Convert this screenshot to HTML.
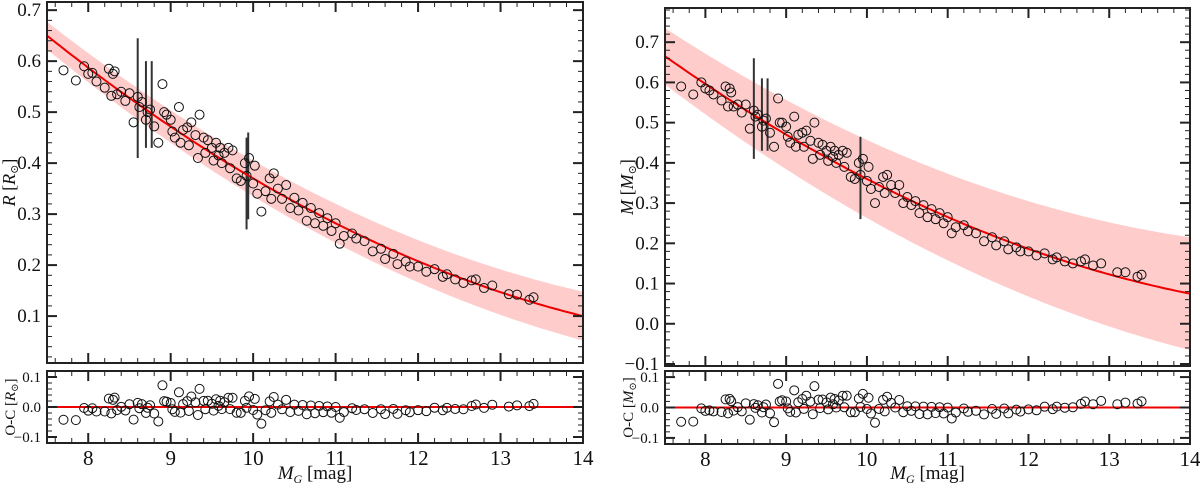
<!DOCTYPE html>
<html><head><meta charset="utf-8"><style>
body{margin:0;background:#fff;width:1200px;height:484px;overflow:hidden}
svg text{font-family:"Liberation Serif","DejaVu Serif",serif;fill:#111}
</style></head><body>
<svg id="c" width="1200" height="484" xmlns="http://www.w3.org/2000/svg"></svg>
<script>
const mg=[7.7,7.85,7.95,8.0,8.05,8.1,8.2,8.25,8.28,8.3,8.32,8.35,8.4,8.45,8.5,8.55,8.6,8.62,8.65,8.7,8.72,8.75,8.8,8.85,8.9,8.92,8.95,9.0,9.02,9.05,9.1,9.12,9.15,9.2,9.22,9.25,9.3,9.33,9.35,9.4,9.42,9.45,9.5,9.52,9.55,9.58,9.6,9.62,9.65,9.7,9.72,9.75,9.8,9.85,9.9,9.92,9.95,10.0,10.02,10.05,10.1,10.15,10.2,10.22,10.25,10.3,10.35,10.4,10.45,10.5,10.55,10.6,10.65,10.7,10.75,10.8,10.85,10.9,10.95,11.0,11.05,11.1,11.2,11.25,11.35,11.45,11.55,11.6,11.7,11.75,11.85,11.9,12.0,12.1,12.2,12.3,12.35,12.45,12.55,12.65,12.7,12.8,12.9,13.1,13.2,13.35,13.4];
const rad=[0.582,0.562,0.59,0.575,0.577,0.56,0.548,0.585,0.532,0.575,0.58,0.535,0.54,0.522,0.537,0.48,0.53,0.51,0.52,0.485,0.5,0.505,0.472,0.44,0.555,0.5,0.495,0.485,0.462,0.45,0.51,0.44,0.465,0.47,0.435,0.48,0.455,0.41,0.495,0.45,0.42,0.445,0.43,0.405,0.44,0.415,0.43,0.4,0.42,0.43,0.39,0.425,0.37,0.365,0.4,0.375,0.41,0.36,0.395,0.34,0.305,0.345,0.37,0.33,0.38,0.35,0.33,0.357,0.312,0.332,0.307,0.322,0.287,0.312,0.282,0.302,0.277,0.292,0.267,0.282,0.242,0.257,0.262,0.252,0.247,0.227,0.232,0.212,0.222,0.202,0.207,0.197,0.197,0.187,0.192,0.177,0.182,0.172,0.165,0.17,0.172,0.155,0.16,0.143,0.142,0.132,0.137];
const mass=[0.59,0.57,0.6,0.585,0.58,0.57,0.555,0.59,0.54,0.585,0.575,0.54,0.545,0.525,0.545,0.485,0.53,0.515,0.52,0.49,0.505,0.51,0.475,0.44,0.56,0.5,0.5,0.49,0.465,0.45,0.515,0.44,0.47,0.475,0.44,0.48,0.455,0.41,0.5,0.45,0.42,0.445,0.43,0.405,0.44,0.415,0.43,0.4,0.42,0.43,0.39,0.425,0.365,0.36,0.4,0.37,0.41,0.355,0.39,0.335,0.3,0.34,0.365,0.325,0.37,0.345,0.325,0.345,0.3,0.315,0.295,0.305,0.275,0.295,0.265,0.285,0.26,0.275,0.25,0.265,0.225,0.24,0.245,0.23,0.225,0.205,0.215,0.195,0.205,0.185,0.19,0.18,0.18,0.17,0.175,0.16,0.165,0.155,0.15,0.155,0.16,0.145,0.15,0.128,0.128,0.117,0.122];
const errR=[[8.6,0.41,0.645],[8.7,0.43,0.6],[8.77,0.43,0.6],[9.92,0.27,0.45],[9.94,0.29,0.46]];
const errM=[[8.6,0.41,0.66],[8.7,0.43,0.61],[8.77,0.43,0.61],[9.92,0.26,0.465]];
const fitR=[0.37,-0.0949,0.00685], bandR=[0.027,0.0032];
const fitM=[0.36,-0.1025,0.0078], bandM=[0.07,0.0108];
const yTicksR=[0.1,0.2,0.3,0.4,0.5,0.6,0.7], yTicksM=[-0.1,0.0,0.1,0.2,0.3,0.4,0.5,0.6,0.7];
const xTicks=[8,9,10,11,12,13,14], resTicks=[-0.1,0.0,0.1];
const NS='http://www.w3.org/2000/svg', svg=document.getElementById('c');
function el(t,a,p){const e=document.createElementNS(NS,t);for(const k in a)e.setAttribute(k,a[k]);(p||svg).appendChild(e);return e;}
function poly(c,m){const d=m-10;return c[0]+c[1]*d+c[2]*d*d;}
function panel(o){
 const {x0,x1,top,bot,ymin,ymax,rtop,rbot,rmin,rmax,fit,band,ys,ticks,err,lab,pfx}=o;
 const X=v=>x0+(v-7.5)/6.5*(x1-x0);
 const Y=v=>bot-(v-ymin)/(ymax-ymin)*(bot-top);
 const RY=v=>rbot-(v-rmin)/(rmax-rmin)*(rbot-rtop);
 const g=el('g',{});
 
 
 let up='',lo='',ln='';
 for(let i=0;i<=130;i++){const m=7.5+i*0.05,f=poly(fit,m),b=band[0]+band[1]*(m-7.5);
  up+=(i?'L':'M')+X(m).toFixed(1)+','+Y(f+b).toFixed(1);
  lo='L'+X(m).toFixed(1)+','+Y(f-b).toFixed(1)+lo;
  ln+=(i?'L':'M')+X(m).toFixed(1)+','+Y(f).toFixed(1);}
 const cp=el('clipPath',{id:pfx+'clip'},g);el('rect',{x:x0,y:top,width:x1-x0,height:bot-top},cp);
 const inner=el('g',{'clip-path':'url(#'+pfx+'clip)'},g);
 const bd=el('path',{d:up+lo+'Z',fill:'#ffcccc'},inner);
 
 
 err.forEach(e=>{const l=el('line',{x1:X(e[0]),x2:X(e[0]),y1:Y(e[1]),y2:Y(e[2]),stroke:'#333','stroke-width':2},inner);
  
  });
 const fl=el('path',{d:ln,fill:'none',stroke:'#e00','stroke-width':2},inner);
 
 
 mg.forEach((m,i)=>{const c=el('circle',{cx:X(m),cy:Y(ys[i]),r:4.5,fill:'none',stroke:'#111','stroke-width':1},inner);
  
  });
 const rl=el('line',{x1:x0,x2:x1,y1:RY(0),y2:RY(0),stroke:'#e00','stroke-width':2},g);
 
 
 mg.forEach((m,i)=>{const c=el('circle',{cx:X(m),cy:RY(ys[i]-poly(fit,m)),r:4.5,fill:'none',stroke:'#111','stroke-width':1},g);
  
  });
 [[top,bot],[rtop,rbot]].forEach(([t,b])=>{el('rect',{x:x0,y:t,width:x1-x0,height:b-t,fill:'none',stroke:'#222','stroke-width':2},g);
  for(let v=7.6;v<14;v+=0.2){const maj=Math.abs(v-Math.round(v))<0.01,L=maj?10:5;const xx=X(v);
   el('line',{x1:xx,x2:xx,y1:b,y2:b-L,stroke:'#222','stroke-width':maj?2:1},g);el('line',{x1:xx,x2:xx,y1:t,y2:t+L,stroke:'#222','stroke-width':maj?2:1},g);}});
 for(let v=Math.ceil(ymin*50)/50;v<=ymax;v+=0.02){const maj=Math.abs(v*10-Math.round(v*10))<0.01,L=maj?10:5,yy=Y(v);
  el('line',{x1:x0,x2:x0+L,y1:yy,y2:yy,stroke:'#222','stroke-width':maj?2:1},g);el('line',{x1:x1,x2:x1-L,y1:yy,y2:yy,stroke:'#222','stroke-width':maj?2:1},g);}
 for(let v=-0.12;v<=0.12;v+=0.02){const maj=Math.abs(v*10-Math.round(v*10))<0.01,L=maj?10:5,yy=RY(v);if(yy<rtop+1||yy>rbot-1)continue;
  el('line',{x1:x0,x2:x0+L,y1:yy,y2:yy,stroke:'#222','stroke-width':maj?2:1},g);el('line',{x1:x1,x2:x1-L,y1:yy,y2:yy,stroke:'#222','stroke-width':maj?2:1},g);}
 ticks.forEach(v=>{const t=el('text',{x:x0-6,y:Y(v)+6,'text-anchor':'end','font-size':19},g);t.textContent=v.toFixed(1).replace('-','−');
  
  });
 resTicks.forEach(v=>{const t=el('text',{x:x0-6,y:RY(v)+5,'text-anchor':'end','font-size':15},g);t.textContent=v.toFixed(1).replace('-','−');
  
  });
 xTicks.forEach(v=>{const t=el('text',{x:X(v),y:rbot+22,'text-anchor':'middle','font-size':21},g);t.textContent=v;
  
  });
 const xt=el('text',{x:(x0+x1)/2,y:479,'text-anchor':'middle','font-size':19},g);
 xt.innerHTML='<tspan font-style="italic">M</tspan><tspan font-style="italic" font-size="12" dy="4">G</tspan><tspan dy="-4"> [mag]</tspan>';
 
 
 const yc=(top+bot)/2,yt=el('text',{x:0,y:0,'text-anchor':'middle','font-size':18,transform:`translate(${x0-32},${yc}) rotate(-90)`},g);
 yt.innerHTML=`<tspan font-style="italic">${lab}</tspan> [<tspan font-style="italic">${lab}</tspan><tspan font-size="11" dy="3">⊙</tspan><tspan dy="-3">]</tspan>`;
 
 
 const rc=(rtop+rbot)/2,rt=el('text',{x:0,y:0,'text-anchor':'middle','font-size':15,transform:`translate(${x0-32},${rc}) rotate(-90)`},g);
 rt.innerHTML=`O-C [<tspan font-style="italic">${lab}</tspan><tspan font-size="10" dy="3">⊙</tspan><tspan dy="-3">]</tspan>`;
 
 
}
panel({pfx:'radius',x0:47,x1:583,top:2,bot:363,ymin:0.008,ymax:0.716,rtop:371,rbot:443,rmin:-0.12,rmax:0.12,fit:fitR,band:bandR,ys:rad,ticks:yTicksR,err:errR,lab:'R'});
panel({pfx:'mass',x0:665,x1:1190,top:8,bot:366,ymin:-0.105,ymax:0.785,rtop:371,rbot:444,rmin:-0.12,rmax:0.12,fit:fitM,band:bandM,ys:mass,ticks:yTicksM,err:errM,lab:'M'});
</script>
</body></html>
